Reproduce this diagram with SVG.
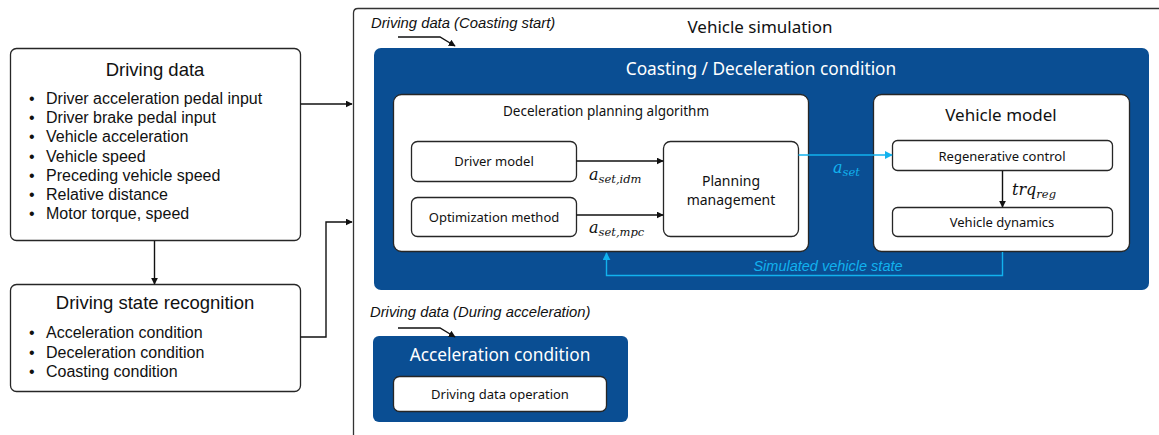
<svg xmlns="http://www.w3.org/2000/svg" width="1159" height="435" viewBox="0 0 1159 435">
  <style>
    .box { fill: #ffffff; stroke: #262626; stroke-width: 1.3; }
    .panel { fill: #0a4e93; stroke: none; }
    .line { fill: none; stroke: #111111; stroke-width: 1.4; }
    .cyan { fill: none; stroke: #12b2ee; stroke-width: 1.4; }
    .ttl { font-family: "Liberation Sans", Arial, sans-serif; font-size: 18.5px; fill: #111; text-anchor: middle; }
    .item { font-family: "Liberation Sans", Arial, sans-serif; font-size: 16px; fill: #111; }
    .note { font-family: "Liberation Sans", Arial, sans-serif; font-size: 14.8px; font-style: italic; fill: #111; }
    .lbl { font-family: "Noto Sans", "DejaVu Sans", sans-serif; font-size: 13px; fill: #111; text-anchor: middle; }
    .wht { font-family: "Noto Sans", "DejaVu Sans", sans-serif; font-size: 17.3px; fill: #ffffff; text-anchor: middle; }
    .math { font-family: "DejaVu Serif", "Liberation Serif", serif; font-style: italic; font-size: 16px; fill: #111; }
    .sub { font-size: 11.5px; }
  </style>
  <defs>
    <marker id="arr" viewBox="0 0 10 10" refX="9" refY="5" markerWidth="7" markerHeight="7" orient="auto" markerUnits="userSpaceOnUse">
      <path d="M0,0 L10,5 L0,10 z" fill="#111"/>
    </marker>
    <marker id="arrc" viewBox="0 0 10 10" refX="9" refY="5" markerWidth="8" markerHeight="8" orient="auto" markerUnits="userSpaceOnUse">
      <path d="M0,0 L10,5 L0,10 z" fill="#12b2ee"/>
    </marker>
  </defs>

  <rect width="1159" height="435" fill="#ffffff"/>

  <!-- Driving data -->
  <g id="driving-data">
    <rect class="box" x="10.5" y="48.5" width="290" height="192" rx="6"/>
    <text class="ttl" x="155" y="76">Driving data</text>
    <g class="item">
      <text x="29" y="104">•</text><text x="46" y="104">Driver acceleration pedal input</text>
      <text x="29" y="123">•</text><text x="46" y="123">Driver brake pedal input</text>
      <text x="29" y="142">•</text><text x="46" y="142">Vehicle acceleration</text>
      <text x="29" y="162">•</text><text x="46" y="162">Vehicle speed</text>
      <text x="29" y="181">•</text><text x="46" y="181">Preceding vehicle speed</text>
      <text x="29" y="200">•</text><text x="46" y="200">Relative distance</text>
      <text x="29" y="219">•</text><text x="46" y="219">Motor torque, speed</text>
    </g>
  </g>

  <!-- Driving state recognition -->
  <g id="driving-state-recognition">
    <rect class="box" x="10.5" y="284.5" width="290" height="107" rx="6"/>
    <text class="ttl" x="155" y="309">Driving state recognition</text>
    <g class="item">
      <text x="29" y="338">•</text><text x="46" y="338">Acceleration condition</text>
      <text x="29" y="358">•</text><text x="46" y="358">Deceleration condition</text>
      <text x="29" y="377">•</text><text x="46" y="377">Coasting condition</text>
    </g>
  </g>

  <!-- Vehicle simulation frame -->
  <g id="vehicle-simulation">
    <path d="M1160,8.5 L358,8.5 Q353.5,8.5 353.5,13 L353.5,436" fill="none" stroke="#333" stroke-width="1.3"/>
    <text class="ttl" x="760" y="33" style="font-family:'Noto Sans','DejaVu Sans',sans-serif;font-size:17px">Vehicle simulation</text>
    <text class="note" x="371" y="28">Driving data (Coasting start)</text>
    <text class="note" x="370" y="317">Driving data (During acceleration)</text>
  </g>

  <!-- Coasting / Deceleration condition panel -->
  <g id="coasting-deceleration">
    <rect class="panel" x="374" y="48" width="775" height="242" rx="7"/>
    <text class="wht" x="761" y="75">Coasting / Deceleration condition</text>
  </g>

  <g id="deceleration-planning">
    <rect class="box" x="393.5" y="94.5" width="415" height="157" rx="8"/>
    <text class="lbl" x="606" y="116" style="font-size:13.5px">Deceleration planning algorithm</text>
  </g>
  <g id="driver-model">
    <rect class="box" x="411.5" y="141.5" width="165" height="40" rx="6"/>
    <text class="lbl" x="494" y="166">Driver model</text>
  </g>
  <g id="optimization-method">
    <rect class="box" x="411.5" y="197.5" width="165" height="39" rx="6"/>
    <text class="lbl" x="494" y="222">Optimization method</text>
  </g>
  <g id="planning-management">
    <rect class="box" x="663.5" y="141.5" width="135" height="95" rx="7"/>
    <text class="lbl" x="731" y="186" style="font-size:14px">Planning</text>
    <text class="lbl" x="731" y="205" style="font-size:14px">management</text>
  </g>

  <g id="vehicle-model">
    <rect class="box" x="873.5" y="94.5" width="256" height="157" rx="8"/>
    <text class="lbl" x="1001" y="121" style="font-size:17px">Vehicle model</text>
  </g>
  <g id="regenerative-control">
    <rect class="box" x="892.5" y="140.5" width="220" height="30" rx="5"/>
    <text class="lbl" x="1002" y="161">Regenerative control</text>
  </g>
  <g id="vehicle-dynamics">
    <rect class="box" x="892.5" y="207.5" width="220" height="29" rx="5"/>
    <text class="lbl" x="1002" y="227">Vehicle dynamics</text>
  </g>

  <!-- Acceleration condition panel -->
  <g id="acceleration-condition">
    <rect class="panel" x="373" y="336" width="255" height="86" rx="6"/>
    <text class="wht" x="500" y="361">Acceleration condition</text>
  </g>
  <g id="driving-data-operation">
    <rect class="box" x="393.5" y="376.5" width="213" height="35" rx="6"/>
    <text class="lbl" x="500" y="399">Driving data operation</text>
  </g>

  <!-- Connectors -->
  <g id="connectors">
    <path class="line" d="M300.5,104 L352,104" marker-end="url(#arr)"/>
    <path class="line" d="M154.5,241 L154.5,284" marker-end="url(#arr)"/>
    <path class="line" d="M300.5,337 L326,337 L326,222 L352,222" marker-end="url(#arr)"/>
    <path class="line" d="M398,37 L440,37 L455,46" marker-end="url(#arr)" stroke-width="1.2"/>
    <path class="line" d="M398,328 L440,328 L455,337" marker-end="url(#arr)" stroke-width="1.2"/>
    <path class="line" d="M576.5,161 L663,161" marker-end="url(#arr)"/>
    <path class="line" d="M576.5,215 L663,215" marker-end="url(#arr)"/>
    <path class="line" d="M1002.5,171 L1002.5,207" marker-end="url(#arr)"/>
    <path class="cyan" d="M798.5,155 L892,155" marker-end="url(#arrc)"/>
    <path class="cyan" d="M1002.5,252 L1002.5,275.5 L606.5,275.5 L606.5,253" marker-end="url(#arrc)"/>
    <text class="math" x="589" y="180">a<tspan class="sub" dy="3">set,idm</tspan></text>
    <text class="math" x="589" y="233">a<tspan class="sub" dy="3">set,mpc</tspan></text>
    <text class="math" x="833" y="173" style="fill:#12b2ee">a<tspan class="sub" dy="3">set</tspan></text>
    <text class="math" x="1012" y="195">trq<tspan class="sub" dy="3">reg</tspan></text>
    <text class="note" x="828" y="271" text-anchor="middle" style="fill:#12b2ee;font-size:14.5px">Simulated vehicle state</text>
  </g>
</svg>
